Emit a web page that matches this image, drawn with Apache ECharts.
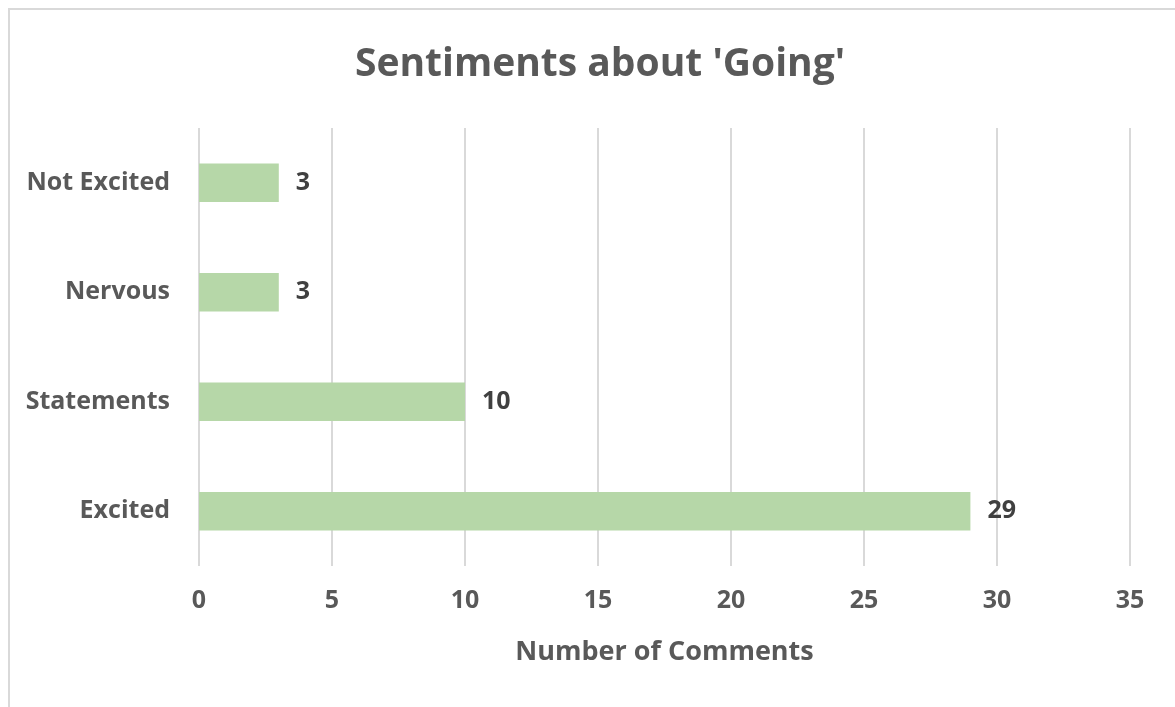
<!DOCTYPE html>
<html>
<head>
<meta charset="utf-8">
<script src="https://cdn.jsdelivr.net/npm/echarts@6/dist/echarts.min.js"></script>
<style>
  html, body { margin: 0; padding: 0; background: #fff; }
  #chart { width: 1175px; height: 707px; }
</style>
</head>
<body>
<div id="chart"></div>
<script>
// Sentiment categories, listed bottom to top as drawn on the category axis
const categories = ['Excited', 'Statements', 'Nervous', 'Not Excited'];
const commentCounts = [29, 10, 3, 3];
const xTicks = { min: 0, max: 35, interval: 5 };

const FONT = '"Open Sans", Lato, sans-serif';
const TEXT = '#595959';

const chart = echarts.init(document.getElementById('chart'), null, { renderer: 'canvas' });

chart.setOption({
  backgroundColor: '#ffffff',
  animation: false,
  title: {
    text: "Sentiments about 'Going'",
    left: 595,
    top: 40,
    textAlign: 'center',
    textStyle: { fontFamily: FONT, fontSize: 39, fontWeight: 'bold', color: TEXT }
  },
  graphic: [
    // frame: top and left edges
    { type: 'line', shape: { x1: 8, y1: 9, x2: 1175, y2: 9 }, style: { stroke: '#d9d9d9', lineWidth: 2 } },
    { type: 'line', shape: { x1: 9, y1: 8, x2: 9, y2: 707 }, style: { stroke: '#d9d9d9', lineWidth: 2 } }
  ],
  grid: { left: 199, right: 45, top: 128, bottom: 141, containLabel: false },
  xAxis: {
    type: 'value',
    min: xTicks.min,
    max: xTicks.max,
    interval: xTicks.interval,
    name: 'Number of Comments',
    nameLocation: 'middle',
    nameGap: 73,
    nameTextStyle: { fontFamily: FONT, fontSize: 27, fontWeight: 'bold', color: TEXT },
    axisLine: { show: false },
    axisTick: { show: false },
    axisLabel: { margin: 22, fontFamily: FONT, fontSize: 25, fontWeight: 'bold', color: TEXT },
    splitLine: { show: true, lineStyle: { color: '#d9d9d9', width: 2 } }
  },
  yAxis: {
    type: 'category',
    data: categories,
    axisLine: { show: false },
    axisTick: { show: false },
    axisLabel: { margin: 29, fontFamily: FONT, fontSize: 25, fontWeight: 'bold', color: TEXT }
  },
  series: [{
    type: 'bar',
    data: commentCounts,
    barCategoryGap: '65%',
    itemStyle: { color: '#b6d7a8' },
    label: {
      show: true,
      position: 'right',
      distance: 17,
      fontFamily: FONT,
      fontSize: 25,
      fontWeight: 'bold',
      color: '#404040'
    }
  }]
});
</script>
</body>
</html>
